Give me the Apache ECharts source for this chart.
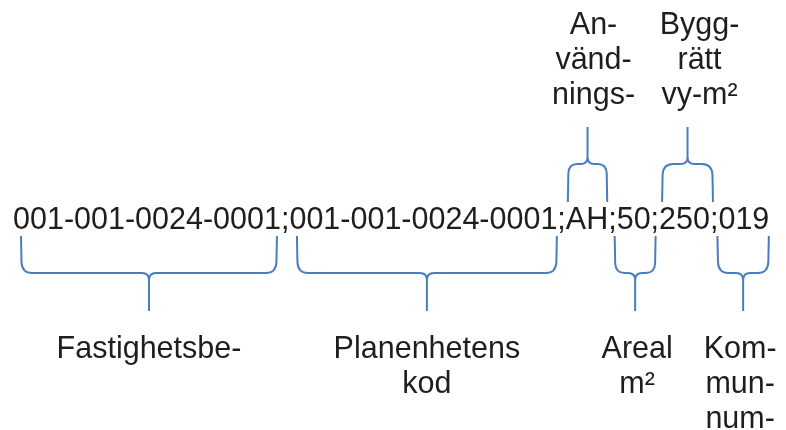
<!DOCTYPE html>
<html><head><meta charset="utf-8">
<script src="https://cdn.jsdelivr.net/npm/echarts@6/dist/echarts.min.js"></script>
<style>html,body{margin:0;padding:0;background:#fff}#c{width:786px;height:430px}</style>
</head><body><div id="c"></div>
<script>
// ---- data ----
const codeString = "001-001-0024-0001;001-001-0024-0001;AH;50;250;019";
const fieldLabelLines = [["Fastighetsbe-"], ["Planenhetens", "kod"], ["An-", "vänd-", "nings-"], ["Areal", "m²"], ["Bygg-", "rätt", "vy-m²"], ["Kom-", "mun-", "num-"]];
const fieldCharStart = [0, 18, 36, 39, 42, 46];
const fieldCharEnd = [17, 35, 38, 41, 45, 49];
const fieldSide = ["below", "below", "above", "below", "above", "below"];

// ---- layout / style ----
const FONT_FAMILY = '"Liberation Sans", Arial, sans-serif';
const FONT_SIZE = 30.5;
const TEXT_COLOR = '#1e1e1e';
const LINE_COLOR = '#4a7dbd';
const BASE_SHIFT = 7.5; // alphabetic baseline below "middle"
const L = {
  codeX: 13, codeBaseline: 228,
  upStemTop: 127, upBar: 164, upArm: 202,
  lowArm: 236, lowBar: 273, lowStem: 311,
  upLastBaseline: 103, lowFirstBaseline: 357, lineGap: 35,
  armInsetL: [8, 7.5, 2, -2, 3, -1],
  armInsetR: [4, 0.5, 1, -5, -3, 0.5],
  labelDx: [0, 0, 6, 2, 12, -3]
};

const ctx = document.createElement('canvas').getContext('2d');
ctx.font = FONT_SIZE + 'px ' + FONT_FAMILY;
function textW(s) { return ctx.measureText(s).width; }

const fieldData = fieldCharStart.map(function (s, i) {
  const x0 = L.codeX + textW(codeString.slice(0, s)) + L.armInsetL[i];
  const x1 = L.codeX + textW(codeString.slice(0, fieldCharEnd[i])) - L.armInsetR[i];
  return [x0, x1, fieldSide[i] === 'above' ? 1 : 0, i];
});

function bracketPath(xl, xr, yArm, yBar, yTip) {
  const dir = yTip > yBar ? 1 : -1; // tip direction
  const xm = (xl + xr) / 2;
  const r = Math.min(11, (xr - xl) / 4.2);
  const rt = Math.min(7, (xr - xl) / 5);
  return 'M' + xl + ',' + yArm +
    ' L' + (xl + 0.5) + ',' + (yBar - dir * r) +
    ' Q' + (xl + 1) + ',' + yBar + ' ' + (xl + r) + ',' + yBar +
    ' L' + (xm - rt) + ',' + yBar +
    ' Q' + xm + ',' + yBar + ' ' + xm + ',' + (yBar + dir * rt) +
    ' L' + xm + ',' + yTip +
    ' M' + xm + ',' + (yBar + dir * rt) +
    ' Q' + xm + ',' + yBar + ' ' + (xm + rt) + ',' + yBar +
    ' L' + (xr - r) + ',' + yBar +
    ' Q' + (xr - 1) + ',' + yBar + ' ' + (xr - 0.5) + ',' + (yBar - dir * r) +
    ' L' + xr + ',' + yArm;
}

const chart = echarts.init(document.getElementById('c'), null, { renderer: 'canvas' });
chart.setOption({
  animation: false,
  backgroundColor: '#fff',
  grid: { left: 0, right: 0, top: 0, bottom: 0 },
  xAxis: { type: 'value', min: 0, max: 786, show: false },
  yAxis: { type: 'value', min: 0, max: 430, inverse: true, show: false },
  series: [
    {
      type: 'custom',
      data: [[L.codeX, L.codeBaseline]],
      renderItem: function (params, api) {
        const p = api.coord([api.value(0), api.value(1)]);
        return {
          type: 'text', x: p[0], y: p[1] - BASE_SHIFT,
          style: { text: codeString, fontSize: FONT_SIZE, fontFamily: FONT_FAMILY, fill: TEXT_COLOR, align: 'left', verticalAlign: 'middle' }
        };
      }
    },
    {
      type: 'custom',
      data: fieldData,
      renderItem: function (params, api) {
        const i = api.value(3);
        const up = api.value(2) === 1;
        const a = api.coord([api.value(0), up ? L.upArm : L.lowArm]);
        const b = api.coord([api.value(1), up ? L.upBar : L.lowBar]);
        const t = api.coord([0, up ? L.upStemTop : L.lowStem]);
        const xm = (a[0] + b[0]) / 2;
        const children = [{
          type: 'path',
          shape: { pathData: bracketPath(a[0], b[0], a[1], b[1], t[1]) },
          style: { stroke: LINE_COLOR, lineWidth: 2, fill: null, lineJoin: 'round', lineCap: 'butt' }
        }];
        const lines = fieldLabelLines[i];
        lines.forEach(function (ln, k) {
          const base = up ? L.upLastBaseline - (lines.length - 1 - k) * L.lineGap : L.lowFirstBaseline + k * L.lineGap;
          const p = api.coord([0, base]);
          children.push({
            type: 'text', x: xm + L.labelDx[i], y: p[1] - BASE_SHIFT,
            style: { text: ln, fontSize: FONT_SIZE, fontFamily: FONT_FAMILY, fill: TEXT_COLOR, align: 'center', verticalAlign: 'middle' }
          });
        });
        return { type: 'group', children: children };
      }
    }
  ]
});
</script>
</body></html>
